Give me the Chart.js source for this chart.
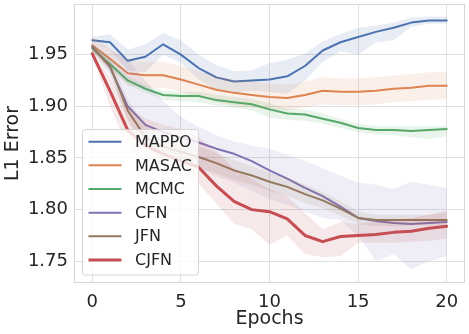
<!DOCTYPE html>
<html><head><meta charset="utf-8">
<script src="https://cdn.jsdelivr.net/npm/chart.js@4.4.1/dist/chart.umd.min.js"></script>
<style>html,body{margin:0;padding:0;background:#fff;overflow:hidden}canvas{display:block}</style>
</head><body>
<canvas id="c" width="469" height="334"></canvas>
<script>
const epochs=[0,1,2,3,4,5,6,7,8,9,10,11,12,13,14,15,16,17,18,19,20];
const xTicks=[0,5,10,15,20];
const yTicks=[1.75,1.80,1.85,1.90,1.95];
const seriesNames=["MAPPO","MASAC","MCMC","CFN","JFN","CJFN"];

const mappo  =[1.964,1.962,1.944,1.948,1.960,1.950,1.937,1.928,1.924,1.925,1.926,1.929,1.939,1.954,1.962,1.967,1.972,1.976,1.981,1.983,1.983];
const mappoLo=[1.961,1.955,1.935,1.933,1.950,1.942,1.926,1.916,1.913,1.915,1.914,1.912,1.925,1.943,1.953,1.950,1.962,1.964,1.977,1.980,1.980];
const mappoHi=[1.967,1.970,1.955,1.960,1.971,1.964,1.950,1.940,1.934,1.935,1.942,1.945,1.951,1.963,1.970,1.976,1.978,1.981,1.986,1.987,1.987];

const masac  =[1.959,1.946,1.932,1.930,1.930,1.926,1.921,1.916,1.913,1.911,1.909,1.908,1.911,1.915,1.914,1.914,1.915,1.917,1.918,1.920,1.920];
const masacLo=[1.952,1.936,1.920,1.918,1.918,1.914,1.909,1.904,1.901,1.899,1.897,1.896,1.899,1.902,1.901,1.901,1.902,1.904,1.905,1.906,1.907];
const masacHi=[1.968,1.956,1.944,1.943,1.943,1.939,1.934,1.929,1.926,1.924,1.922,1.921,1.924,1.928,1.927,1.927,1.928,1.930,1.931,1.933,1.933];

const mcmc  =[1.956,1.941,1.925,1.917,1.911,1.910,1.910,1.906,1.904,1.902,1.897,1.893,1.892,1.888,1.884,1.879,1.877,1.877,1.876,1.877,1.878];
const mcmcLo=[1.953,1.937,1.921,1.913,1.906,1.905,1.904,1.901,1.899,1.896,1.889,1.887,1.886,1.883,1.879,1.875,1.873,1.872,1.870,1.868,1.871];
const mcmcHi=[1.959,1.945,1.929,1.921,1.915,1.914,1.914,1.911,1.909,1.907,1.903,1.898,1.897,1.893,1.888,1.883,1.881,1.881,1.881,1.881,1.881];

const cfn  =[1.958,1.938,1.900,1.882,1.875,1.870,1.865,1.859,1.854,1.847,1.838,1.830,1.821,1.813,1.803,1.792,1.789,1.787,1.786,1.787,1.788];
const cfnLo=[1.953,1.930,1.888,1.862,1.853,1.847,1.840,1.832,1.826,1.818,1.810,1.805,1.798,1.792,1.790,1.775,1.750,1.757,1.742,1.750,1.755];
const cfnHi=[1.962,1.955,1.945,1.925,1.905,1.890,1.880,1.872,1.866,1.862,1.859,1.853,1.847,1.840,1.833,1.826,1.824,1.820,1.827,1.824,1.821];

const jfn  =[1.957,1.939,1.896,1.870,1.861,1.856,1.851,1.845,1.838,1.833,1.827,1.822,1.815,1.809,1.801,1.792,1.790,1.790,1.790,1.790,1.790];
const jfnLo=[1.954,1.932,1.885,1.860,1.851,1.846,1.841,1.835,1.829,1.824,1.818,1.813,1.807,1.801,1.794,1.786,1.784,1.784,1.785,1.785,1.785];
const jfnHi=[1.960,1.946,1.907,1.881,1.872,1.866,1.861,1.855,1.848,1.842,1.836,1.831,1.824,1.817,1.808,1.798,1.795,1.795,1.795,1.795,1.797];

const cjfn  =[1.951,1.915,1.877,1.862,1.854,1.847,1.841,1.823,1.808,1.800,1.798,1.791,1.775,1.769,1.774,1.775,1.776,1.778,1.779,1.782,1.784];
const cjfnLo=[1.948,1.900,1.862,1.845,1.838,1.832,1.825,1.806,1.786,1.781,1.766,1.775,1.757,1.754,1.755,1.768,1.768,1.768,1.769,1.770,1.772];
const cjfnHi=[1.954,1.928,1.898,1.888,1.882,1.878,1.870,1.856,1.840,1.830,1.820,1.813,1.797,1.781,1.788,1.786,1.788,1.790,1.792,1.795,1.799];

const colors=["#4C72B0","#DD8452","#55A868","#8172B3","#937860","#C44E52"];
const widths=[2,2,2,2,2,3];
const means=[mappo,masac,mcmc,cfn,jfn,cjfn];
const lows=[mappoLo,masacLo,mcmcLo,cfnLo,jfnLo,cjfnLo];
const highs=[mappoHi,masacHi,mcmcHi,cfnHi,jfnHi,cjfnHi];

function pts(arr){return arr.map((v,i)=>({x:epochs[i],y:v}));}
function rgba(hex,a){const n=parseInt(hex.slice(1),16);return `rgba(${n>>16},${(n>>8)&255},${n&255},${a})`;}

const datasets=[];
seriesNames.forEach((name,i)=>{
  datasets.push({label:name+" lo",data:pts(lows[i]),borderWidth:0,pointRadius:0,fill:false,order:100-2*i,borderColor:'transparent'});
  datasets.push({label:name+" hi",data:pts(highs[i]),borderWidth:0,pointRadius:0,fill:'-1',backgroundColor:rgba(colors[i],0.13),order:100-2*i,borderColor:'transparent'});
});
seriesNames.forEach((name,i)=>{
  datasets.push({label:name,data:pts(means[i]),borderColor:colors[i],backgroundColor:colors[i],borderWidth:widths[i],pointRadius:0,fill:false,order:99-2*i,tension:0,borderJoinStyle:'round',borderCapStyle:'round'});
});

const frame={id:'frame',afterDraw(chart){const a=chart.chartArea,ctx=chart.ctx;ctx.save();ctx.strokeStyle='#d6d6d6';ctx.lineWidth=1;ctx.strokeRect(Math.round(a.left)+0.5,Math.round(a.top)+0.5,Math.round(a.right-a.left)-1,Math.round(a.bottom-a.top)-1);ctx.restore();}};

const legendBox={id:'legendBox',afterDatasetsDraw(chart){
  const ctx=chart.ctx;ctx.save();
  const x0=82.5,y0=129.5,w=116,h=145.5,r=3;
  ctx.beginPath();ctx.moveTo(x0+r,y0);ctx.lineTo(x0+w-r,y0);ctx.arcTo(x0+w,y0,x0+w,y0+r,r);ctx.lineTo(x0+w,y0+h-r);ctx.arcTo(x0+w,y0+h,x0+w-r,y0+h,r);ctx.lineTo(x0+r,y0+h);ctx.arcTo(x0,y0+h,x0,y0+h-r,r);ctx.lineTo(x0,y0+r);ctx.arcTo(x0,y0,x0+r,y0,r);ctx.closePath();
  ctx.fillStyle='rgba(255,255,255,0.8)';ctx.fill();ctx.strokeStyle='rgba(204,204,204,0.8)';ctx.lineWidth=1;ctx.stroke();
  ctx.font='16px "DejaVu Sans"';ctx.textBaseline='middle';ctx.textAlign='left';
  seriesNames.forEach((name,i)=>{
    const y=141.7+i*23.65;
    ctx.strokeStyle=colors[i];ctx.lineWidth=widths[i];ctx.lineCap='butt';
    ctx.beginPath();ctx.moveTo(88.5,y);ctx.lineTo(121.5,y);ctx.stroke();
    ctx.fillStyle='#262626';ctx.fillText(name,135,y+1);
  });
  ctx.restore();
}};

new Chart(document.getElementById('c'),{
  type:'line',
  data:{datasets},
  options:{
    responsive:false,animation:false,
    layout:{padding:{top:4,right:4,left:0,bottom:0}},
    plugins:{legend:{display:false},tooltip:{enabled:false},filler:{propagate:false}},
    scales:{
      x:{type:'linear',min:-1.03,max:21.03,
        afterBuildTicks(s){s.ticks=xTicks.map(v=>({value:v}));},
        afterFit(s){s.height=51;s.paddingLeft=0;s.paddingRight=0;},
        grid:{color:'#e0e0e0',lineWidth:1,drawTicks:false},
        border:{display:false},
        ticks:{padding:9,color:'#262626',font:{family:'DejaVu Sans',size:18},callback:v=>String(v)},
        title:{display:true,text:'Epochs',color:'#262626',font:{family:'DejaVu Sans',size:19},padding:{top:0,bottom:4}}
      },
      y:{type:'linear',min:1.729,max:1.999,
        afterBuildTicks(s){s.ticks=yTicks.map(v=>({value:v}));},
        afterFit(s){s.width=74;s.paddingTop=0;s.paddingBottom=0;},
        grid:{color:'#e0e0e0',lineWidth:1,drawTicks:false},
        border:{display:false},
        ticks:{padding:6,color:'#262626',font:{family:'DejaVu Sans',size:18},callback:v=>Number(v).toFixed(2)},
        title:{display:true,text:'L1 Error',color:'#262626',font:{family:'DejaVu Sans',size:19},padding:{top:2,bottom:0}}
      }
    }
  },
  plugins:[frame,legendBox]
});
</script>
</body></html>
